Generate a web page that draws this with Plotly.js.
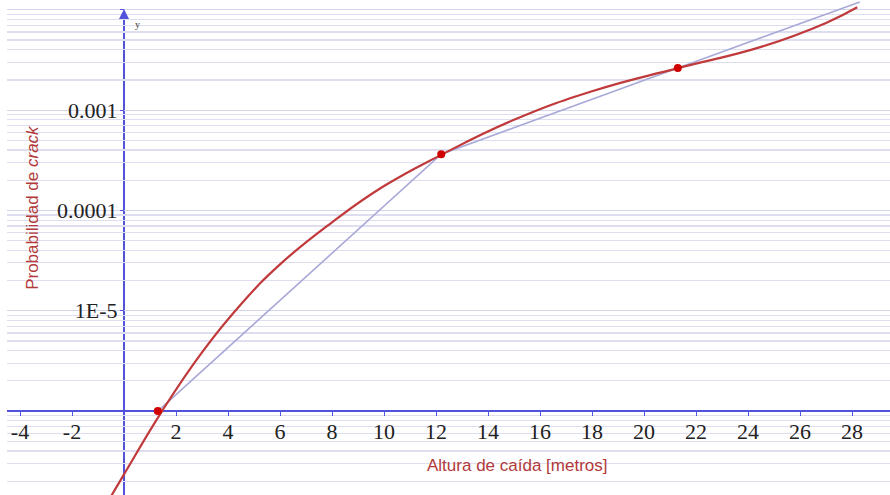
<!DOCTYPE html>
<html>
<head>
<meta charset="utf-8">
<script src="https://cdn.plot.ly/plotly-3.0.1.min.js"></script>
<style>html,body{margin:0;padding:0;background:#fff;}#chart{width:890px;height:495px;}</style>
</head>
<body>
<div id="chart"></div>
<script>
// Red fitted curve
const curveX = [-0.5, 0, 1.5, 3, 4.5, 6, 8, 10, 12.2, 15, 18, 21.3, 24.5, 27, 28.2];
const curveY = [1.41e-7, 2.34e-7, 1.035e-6, 3.85e-6, 1.16e-5, 2.90e-5, 7.62e-5, 1.75e-4, 3.58e-4, 8.0e-4, 1.54e-3, 2.62e-3, 4.27e-3, 7.41e-3, 1.06e-2];
// Measured points
const pointX = [1.3, 12.2, 21.3];
const pointY = [1.0e-6, 3.63e-4, 2.63e-3];
// Piecewise linear (light blue) through points, extended
const polyX = [1.3, 12.2, 21.3, 28.3];
const polyY = [1.0e-6, 3.63e-4, 2.63e-3, 1.2e-2];
// Ticks
const xTickVals = [-4, -2, 2, 4, 6, 8, 10, 12, 14, 16, 18, 20, 22, 24, 26, 28];
const xTickText = ['-4', '-2', '2', '4', '6', '8', '10', '12', '14', '16', '18', '20', '22', '24', '26', '28'];
const yDecades = [1e-7, 1e-6, 1e-5, 1e-4, 1e-3, 1e-2];
const yTickText = ['', '', '1E-5', '0.0001', '0.001', ''];
const minorMult = [2, 3, 4, 5, 6, 7, 8, 9];

const yMinor = [];
yDecades.forEach(d => minorMult.forEach(m => yMinor.push(d * m)));

const axisBlue = '#5252dc';
const redC = '#c0393b';

const traces = [
  {x: polyX, y: polyY, type: 'scatter', mode: 'lines', line: {color: '#a9a9d8', width: 1.6}, hoverinfo: 'skip'},
  {x: curveX, y: curveY, type: 'scatter', mode: 'lines', line: {color: redC, width: 2.2, shape: 'spline', smoothing: 1.3}, hoverinfo: 'skip'},
  {x: pointX, y: pointY, type: 'scatter', mode: 'markers', marker: {color: '#d00000', size: 8}, hoverinfo: 'skip'}
];

const layout = {
  width: 890, height: 495,
  margin: {l: 7, r: 0, t: 0, b: 0},
  paper_bgcolor: '#ffffff', plot_bgcolor: '#ffffff',
  showlegend: false,
  xaxis: {
    range: [-4.5, 29.46], showgrid: false, zeroline: false,
    showline: true, linecolor: axisBlue, linewidth: 2,
    anchor: 'free', position: 0.1697, layer: 'below traces',
    tickmode: 'array', tickvals: xTickVals, ticktext: xTickText,
    ticks: 'outside', ticklen: 4, tickcolor: axisBlue, tickwidth: 1,
    ticklabelstandoff: -3,
    tickfont: {family: 'Liberation Serif', size: 22, color: '#222'}
  },
  yaxis: {
    type: 'log', range: [-6.837, -1.902], zeroline: false,
    showline: false, anchor: 'free', position: 0.1325,
    tickmode: 'array', tickvals: yDecades, ticktext: yTickText,
    ticks: 'outside', ticklen: 4, tickcolor: axisBlue,
    ticklabelstandoff: -2,
    showgrid: true, gridcolor: '#d4d4ea', gridwidth: 1.2,
    tickfont: {family: 'Liberation Serif', size: 22, color: '#222'},
    minor: {tickmode: 'array', tickvals: yMinor, showgrid: true, gridcolor: '#dedef0', gridwidth: 1.2, ticks: ''}
  },
  shapes: [
    {type: 'line', xref: 'x', yref: 'paper', x0: 0, x1: 0, y0: 0, y1: 0.975, line: {color: axisBlue, width: 2}, layer: 'below'}
  ],
  annotations: [
    {xref: 'x', yref: 'paper', x: 0, y: 0.982, text: '', showarrow: true, ax: 0, ay: 8, arrowhead: 2, arrowsize: 1, arrowwidth: 2, arrowcolor: axisBlue},
    {xref: 'paper', yref: 'paper', x: 0.1427, y: 0.966, text: 'y', showarrow: false, font: {family: 'Liberation Serif', size: 10, color: '#333'}},
    {xref: 'paper', yref: 'paper', x: 0.0294, y: 0.582, xanchor: 'center', yanchor: 'middle', text: 'Probabilidad de <i>crack</i>', textangle: -90, showarrow: false, font: {family: 'Liberation Sans', size: 17, color: '#b23a3a'}},
    {xref: 'paper', yref: 'paper', x: 0.5776, y: 0.0586, xanchor: 'center', yanchor: 'middle', text: 'Altura de caída [metros]', showarrow: false, font: {family: 'Liberation Sans', size: 17, color: '#b23a3a'}}
  ]
};

Plotly.newPlot('chart', traces, layout, {staticPlot: true, displayModeBar: false});
</script>
</body>
</html>
